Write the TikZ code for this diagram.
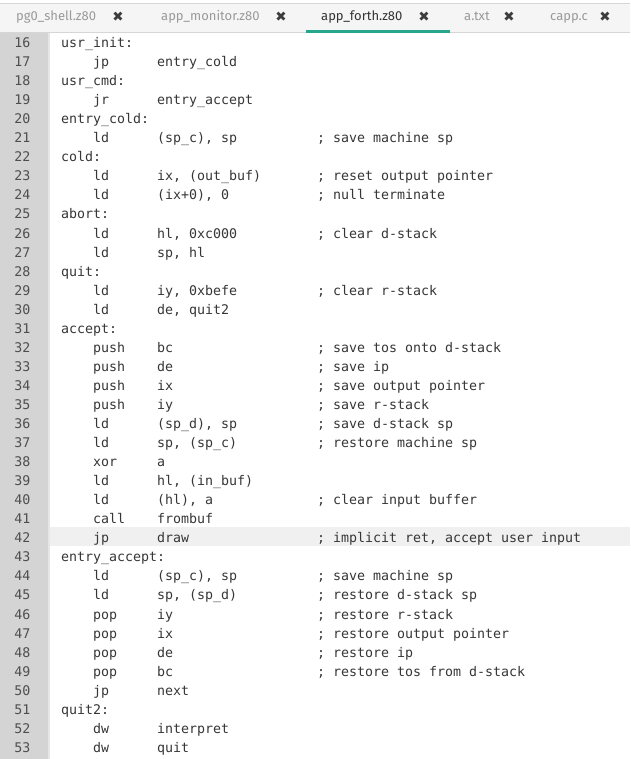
\documentclass[tikz,border=0pt]{standalone}
\usepackage{fontspec}
\usepackage{tikz}
\setmainfont{Fira Sans}
\setmonofont{DejaVu Sans Mono}
\newfontfamily\closefont{DejaVu Sans}

\definecolor{tabbar}{HTML}{F5F5F5}
\definecolor{tabline}{HTML}{D6D6D6}
\definecolor{tabactive}{HTML}{26A68A}
\definecolor{tabtext}{HTML}{9A9A9A}
\definecolor{tabtextactive}{HTML}{333333}
\definecolor{closex}{HTML}{3C3C3C}
\definecolor{gutter}{HTML}{D4D4D4}
\definecolor{gutterstrip}{HTML}{E6E6E6}
\definecolor{curline}{HTML}{F0F0F0}
\definecolor{codetext}{HTML}{363636}
\definecolor{numtext}{HTML}{4E4E4E}

\begin{document}
\begin{tikzpicture}[x=1pt, y=-1pt,
	code/.style={anchor=base west, inner sep=0pt, text=codetext, font=\ttfamily\fontsize{13.29}{16}\selectfont},
	lineno/.style={anchor=base east, inner sep=0pt, text=numtext, font=\ttfamily\fontsize{13.29}{16}\selectfont},
	tabname/.style={anchor=base west, inner sep=0pt, text=tabtext, font=\fontsize{13}{15}\selectfont},
	tabclose/.style={anchor=center, inner sep=0pt, text=closex, font=\closefont\fontsize{13.5}{15}\selectfont}]
		\useasboundingbox (0,0) rectangle (630,759);
		\fill[white] (0,0) rectangle (630,759);
		% tab bar
		\fill[tabbar] (0,4) rectangle (630,32);
		\fill[tabline] (0,3) rectangle (630,4.5);
		\fill[tabline] (0,32) rectangle (630,33);
		\fill[tabactive] (306,30) rectangle (450,33);
		\node[tabname] (t1) at (16,21) {pg0\_shell.z80};
		\node[tabname] (t2) at (161,21) {app\_monitor.z80};
		\node[tabname, text=tabtextactive] (t3) at (321,21) {app\_forth.z80};
		\node[tabname] (t4) at (464,21) {a.txt};
		\node[tabname] (t5) at (550,21) {capp.c};
		\foreach \i/\x in {1/118, 2/281, 3/424, 4/509, 5/605}
			\node[tabclose] (x\i) at (\x,16.5) {✖};
		% gutter and current line
		\fill[gutter] (0,33) rectangle (48,759);
		\fill[gutterstrip] (48,33) rectangle (50,759);
		\fill[curline] (50,527.3) rectangle (630,546.3);
		\foreach \n in {16,...,53}
			\node[lineno] (n\n) at (30.5,{47.5+(\n-16)*19.05}) {\n};
		% labels
		\foreach \n/\txt in {16/usr\_init:, 18/usr\_cmd:, 20/entry\_cold:, 22/cold:, 25/abort:,
			28/quit:, 31/accept:, 43/entry\_accept:, 51/quit2:}
			\node[code] (l\n) at (61,{47.5+(\n-16)*19.05}) {\txt};
		% instructions
		\foreach \n/\op/\arg/\cm in {
			17/jp/entry\_cold/,
			19/jr/entry\_accept/,
			21/ld/{(sp\_c), sp}/{; save machine sp},
			23/ld/{ix, (out\_buf)}/{; reset output pointer},
			24/ld/{(ix+0), 0}/{; null terminate},
			26/ld/{hl, 0xc000}/{; clear d-stack},
			27/ld/{sp, hl}/,
			29/ld/{iy, 0xbefe}/{; clear r-stack},
			30/ld/{de, quit2}/,
			32/push/bc/{; save tos onto d-stack},
			33/push/de/{; save ip},
			34/push/ix/{; save output pointer},
			35/push/iy/{; save r-stack},
			36/ld/{(sp\_d), sp}/{; save d-stack sp},
			37/ld/{sp, (sp\_c)}/{; restore machine sp},
			38/xor/a/,
			39/ld/{hl, (in\_buf)}/,
			40/ld/{(hl), a}/{; clear input buffer},
			41/call/frombuf/,
			42/jp/draw/{; implicit ret, accept user input},
			44/ld/{(sp\_c), sp}/{; save machine sp},
			45/ld/{sp, (sp\_d)}/{; restore d-stack sp},
			46/pop/iy/{; restore r-stack},
			47/pop/ix/{; restore output pointer},
			48/pop/de/{; restore ip},
			49/pop/bc/{; restore tos from d-stack},
			50/jp/next/,
			52/dw/interpret/,
			53/dw/quit/}
		{
			\node[code] (op\n) at (93,{47.5+(\n-16)*19.05}) {\op};
			\node[code] (arg\n) at (157,{47.5+(\n-16)*19.05}) {\arg};
			\node[code] (cm\n) at (317,{47.5+(\n-16)*19.05}) {\cm};
		}
\end{tikzpicture}
\end{document}
